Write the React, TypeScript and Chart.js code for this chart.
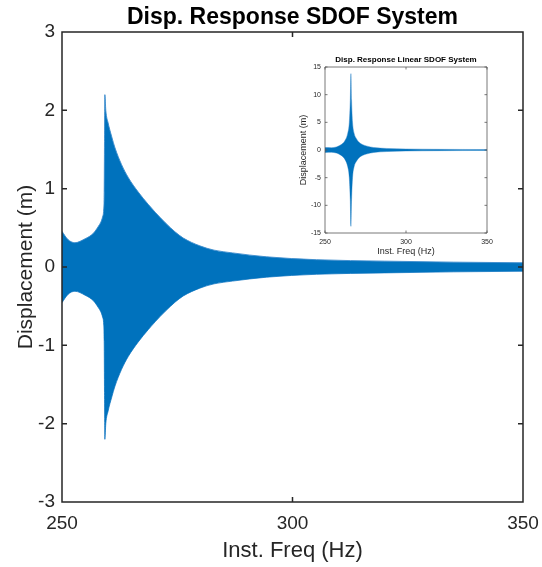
import React, { useEffect, useRef } from "react";
import { Chart, registerables } from "chart.js";

Chart.register(...registerables);

// ---------- Main chart data (envelope of displacement response) ----------
const MAIN_TITLE = "Disp. Response SDOF System";
const MAIN_X_LABEL = "Inst. Freq (Hz)";
const MAIN_Y_LABEL = "Displacement (m)";
const MAIN_FREQ = [
  250.0, 251.3, 252.8, 255.0, 256.8, 257.9, 258.4, 258.8, 259.05, 259.15, 259.22, 259.3,
  259.5, 260.0, 260.8, 261.5, 262.9, 264.4, 266.5, 268.7, 270.2, 272.5, 274.5, 276.3, 279.9,
  283.0, 287.0, 294.4, 305.2, 320.0, 335.0, 350.0,
];
const MAIN_UPPER = [
  0.455, 0.35, 0.31, 0.36, 0.43, 0.52, 0.57, 0.64, 0.74, 0.95, 1.6, 2.2,
  2.0, 1.84, 1.66, 1.52, 1.31, 1.14, 0.96, 0.8, 0.7, 0.56, 0.45, 0.37, 0.27,
  0.215, 0.18, 0.13, 0.093, 0.075, 0.062, 0.054,
];
const MAIN_LOWER = [
  -0.455, -0.35, -0.31, -0.36, -0.43, -0.52, -0.57, -0.64, -0.74, -0.95, -1.6, -2.2,
  -2.0, -1.84, -1.66, -1.52, -1.31, -1.14, -0.96, -0.8, -0.7, -0.56, -0.45, -0.37, -0.27,
  -0.215, -0.18, -0.13, -0.093, -0.075, -0.062, -0.054,
];
const MAIN_X_RANGE = [250, 350];
const MAIN_X_STEP = 50;
const MAIN_Y_RANGE = [-3, 3];
const MAIN_Y_STEP = 1;

// ---------- Inset chart data (linear SDOF) ----------
const INSET_TITLE = "Disp. Response Linear SDOF System";
const INSET_X_LABEL = "Inst. Freq (Hz)";
const INSET_Y_LABEL = "Displacement (m)";
const INSET_FREQ = [
  250, 254, 257, 259, 261, 262.5, 264, 265, 265.6, 266, 266.4, 267, 268,
  269.5, 271, 273, 276, 280, 288, 300, 320, 350,
];
const INSET_UPPER = [
  0.45, 0.42, 0.55, 0.8, 1.2, 1.8, 3, 5, 9, 13.8, 9, 5, 3,
  2, 1.4, 1.0, 0.7, 0.45, 0.28, 0.18, 0.12, 0.08,
];
const INSET_LOWER = [
  -0.45, -0.42, -0.55, -0.8, -1.2, -1.8, -3, -5, -9, -13.8, -9, -5, -3,
  -2, -1.4, -1.0, -0.7, -0.45, -0.28, -0.18, -0.12, -0.08,
];
const INSET_X_RANGE = [250, 350];
const INSET_X_STEP = 50;
const INSET_Y_RANGE = [-15, 15];
const INSET_Y_STEP = 5;

const BLUE = "#0072BD";
const EDGE = "rgba(60,140,205,0.9)";
const AXIS_COLOR = "#262626";
const FONT = "'Liberation Sans', Arial, Helvetica, sans-serif";

// Draws MATLAB-like box and inward tick marks using the chart's own scales
const boxPlugin = {
  id: "matlabBox",
  afterDatasetsDraw(chart: any, _args: any, opts: any) {
    const { ctx, chartArea, scales } = chart;
    const { left, right, top, bottom } = chartArea;
    const xs = scales.x;
    const ys = scales.y;
    ctx.save();
    ctx.strokeStyle = opts.color || AXIS_COLOR;
    ctx.lineWidth = opts.lineWidth || 1;
    ctx.beginPath();
    ctx.rect(left, top, right - left, bottom - top);
    const len = opts.tickLen || 5;
    xs.ticks.forEach((_t: any, i: number) => {
      const px = xs.getPixelForTick(i);
      ctx.moveTo(px, bottom);
      ctx.lineTo(px, bottom - len);
      ctx.moveTo(px, top);
      ctx.lineTo(px, top + len);
    });
    ys.ticks.forEach((_t: any, i: number) => {
      const py = ys.getPixelForTick(i);
      ctx.moveTo(left, py);
      ctx.lineTo(left + len, py);
      ctx.moveTo(right, py);
      ctx.lineTo(right - len, py);
    });
    ctx.stroke();
    ctx.restore();
  },
};

function envelopeDatasets(freq: number[], upper: number[], lower: number[], bw: number) {
  return [
    {
      data: freq.map((f, i) => ({ x: f, y: upper[i] })),
      fill: "+1",
      backgroundColor: BLUE,
      borderColor: EDGE,
      borderWidth: bw,
      pointRadius: 0,
      cubicInterpolationMode: "monotone" as const,
    },
    {
      data: freq.map((f, i) => ({ x: f, y: lower[i] })),
      fill: false,
      backgroundColor: BLUE,
      borderColor: EDGE,
      borderWidth: bw,
      pointRadius: 0,
      cubicInterpolationMode: "monotone" as const,
    },
  ];
}

export default function App() {
  const mainRef = useRef<HTMLCanvasElement | null>(null);
  const insetRef = useRef<HTMLCanvasElement | null>(null);

  useEffect(() => {
    const mainChart = new Chart(mainRef.current as HTMLCanvasElement, {
      type: "line",
      data: { datasets: envelopeDatasets(MAIN_FREQ, MAIN_UPPER, MAIN_LOWER, 1) as any },
      options: {
        animation: false,
        responsive: false,
        events: [],
        layout: { padding: { left: 0, right: 19, top: 0, bottom: 0 } },
        plugins: {
          legend: { display: false },
          tooltip: { enabled: false },
          title: {
            display: true,
            text: MAIN_TITLE,
            fullSize: false,
            color: "#000",
            font: { family: FONT, size: 23, weight: "bold" },
            padding: { top: 4, bottom: 0.4 },
          },
          matlabBox: { color: AXIS_COLOR, lineWidth: 1.5, tickLen: 5 },
        } as any,
        scales: {
          x: {
            type: "linear",
            min: MAIN_X_RANGE[0],
            max: MAIN_X_RANGE[1],
            grid: { display: false, drawTicks: false },
            border: { display: false },
            ticks: {
              stepSize: MAIN_X_STEP,
              padding: 10,
              maxRotation: 0,
              autoSkip: false,
              color: AXIS_COLOR,
              font: { family: FONT, size: 19 },
            },
            title: {
              display: true,
              text: MAIN_X_LABEL,
              color: AXIS_COLOR,
              font: { family: FONT, size: 22 },
              padding: { top: 0, bottom: 3 },
            },
            afterFit(s: any) {
              s.height = 65;
              s.paddingLeft = 0;
              s.paddingRight = 0;
            },
          },
          y: {
            type: "linear",
            min: MAIN_Y_RANGE[0],
            max: MAIN_Y_RANGE[1],
            grid: { display: false, drawTicks: false },
            border: { display: false },
            ticks: {
              stepSize: MAIN_Y_STEP,
              padding: 7,
              color: AXIS_COLOR,
              font: { family: FONT, size: 19 },
            },
            title: {
              display: true,
              text: MAIN_Y_LABEL,
              color: AXIS_COLOR,
              font: { family: FONT, size: 21 },
              padding: { top: 14, bottom: 0 },
            },
            afterFit(s: any) {
              s.width = 62;
              s.paddingTop = 0;
              s.paddingBottom = 0;
            },
          },
        } as any,
      },
      plugins: [boxPlugin],
    });

    const insetChart = new Chart(insetRef.current as HTMLCanvasElement, {
      type: "line",
      data: { datasets: envelopeDatasets(INSET_FREQ, INSET_UPPER, INSET_LOWER, 0.5) as any },
      options: {
        animation: false,
        responsive: false,
        events: [],
        layout: { padding: { left: 0, right: 13, top: 0, bottom: 0 } },
        plugins: {
          legend: { display: false },
          tooltip: { enabled: false },
          title: {
            display: true,
            text: INSET_TITLE,
            fullSize: false,
            color: "#000",
            font: { family: FONT, size: 8, weight: "bold" },
            padding: { top: 5.2, bottom: 2.2 },
          },
          matlabBox: { color: "#555", lineWidth: 0.8, tickLen: 2.5 },
        } as any,
        scales: {
          x: {
            type: "linear",
            min: INSET_X_RANGE[0],
            max: INSET_X_RANGE[1],
            grid: { display: false, drawTicks: false },
            border: { display: false },
            ticks: {
              stepSize: INSET_X_STEP,
              padding: 4.5,
              maxRotation: 0,
              autoSkip: false,
              color: AXIS_COLOR,
              font: { family: FONT, size: 7 },
            },
            title: {
              display: true,
              text: INSET_X_LABEL,
              color: AXIS_COLOR,
              font: { family: FONT, size: 9 },
              padding: { top: 0, bottom: 7.6 },
            },
            afterFit(s: any) {
              s.height = 32;
              s.paddingLeft = 0;
              s.paddingRight = 0;
            },
          },
          y: {
            type: "linear",
            min: INSET_Y_RANGE[0],
            max: INSET_Y_RANGE[1],
            grid: { display: false, drawTicks: false },
            border: { display: false },
            ticks: {
              stepSize: INSET_Y_STEP,
              padding: 4,
              color: AXIS_COLOR,
              font: { family: FONT, size: 7 },
            },
            title: {
              display: true,
              text: INSET_Y_LABEL,
              color: AXIS_COLOR,
              font: { family: FONT, size: 9 },
              padding: { top: 8.6, bottom: 0 },
            },
            afterFit(s: any) {
              s.width = 35;
              s.paddingTop = 0;
              s.paddingBottom = 0;
            },
          },
        } as any,
      },
      plugins: [boxPlugin],
    });

    return () => {
      mainChart.destroy();
      insetChart.destroy();
    };
  }, []);

  return (
    <div style={{ position: "absolute", left: 0, top: 0, width: 542, height: 567, background: "#fff" }}>
      <canvas
        ref={mainRef}
        width={542}
        height={567}
        style={{ position: "absolute", left: 0, top: 0, width: 542, height: 567, display: "block" }}
      />
      <canvas
        ref={insetRef}
        width={210}
        height={215}
        style={{ position: "absolute", left: 290, top: 50, width: 210, height: 215, display: "block" }}
      />
    </div>
  );
}
